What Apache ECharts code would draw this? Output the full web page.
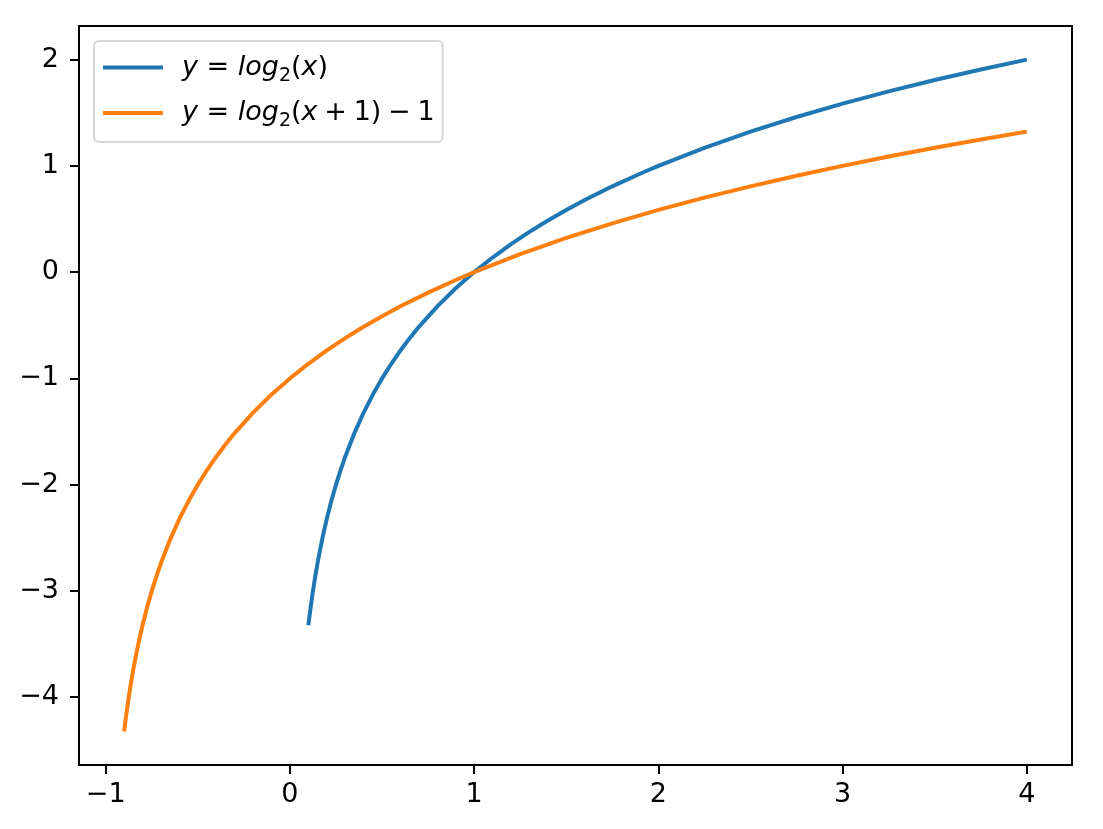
<!DOCTYPE html>
<html>
<head>
<meta charset="utf-8">
<script src="https://cdn.jsdelivr.net/npm/echarts@6/dist/echarts.min.js"></script>
<style>
html,body{margin:0;padding:0;background:#fff;}
#chart{width:1103px;height:829px;}
</style>
</head>
<body>
<div id="chart"></div>
<script>
// Data
const blueName = 'y = log2(x)';
const orangeName = 'y = log2(x + 1) − 1';
const blueX = [0.1,0.11,0.12,0.13,0.14,0.15,0.16,0.18,0.2,0.225,0.25,0.275,0.3,0.35,0.4,0.45,0.5,0.55,0.6,0.65,0.7,0.8,0.9,1,1.1,1.2,1.3,1.4,1.5,1.6,1.75,1.9,2,2.25,2.5,2.75,3,3.25,3.5,3.75,4];
const blueY = [-3.3219,-3.1844,-3.0589,-2.9434,-2.8365,-2.737,-2.6439,-2.4739,-2.3219,-2.152,-2,-1.8625,-1.737,-1.5146,-1.3219,-1.152,-1,-0.8625,-0.737,-0.6215,-0.5146,-0.3219,-0.152,0,0.1375,0.263,0.3785,0.4854,0.585,0.6781,0.8074,0.926,1,1.1699,1.3219,1.4594,1.585,1.7004,1.8074,1.9069,2];
const orangeX = [-0.9,-0.89,-0.88,-0.87,-0.86,-0.85,-0.84,-0.82,-0.8,-0.775,-0.75,-0.725,-0.7,-0.65,-0.6,-0.55,-0.5,-0.45,-0.4,-0.35,-0.3,-0.2,-0.1,0,0.1,0.2,0.3,0.4,0.5,0.6,0.75,0.9,1,1.25,1.5,1.75,2,2.25,2.5,2.75,3,3.25,3.5,3.75,4];
const orangeY = [-4.3219,-4.1844,-4.0589,-3.9434,-3.8365,-3.737,-3.6439,-3.4739,-3.3219,-3.152,-3,-2.8625,-2.737,-2.5146,-2.3219,-2.152,-2,-1.8625,-1.737,-1.6215,-1.5146,-1.3219,-1.152,-1,-0.8625,-0.737,-0.6215,-0.5146,-0.415,-0.3219,-0.1926,-0.074,0,0.1699,0.3219,0.4594,0.585,0.7004,0.8074,0.9069,1,1.0875,1.1699,1.2479,1.3219];
const xTicks = [-1,0,1,2,3,4];
const yTicks = [-4,-3,-2,-1,0,1,2];
const xRange = [-1.145, 4.245];
const yRange = [-4.638, 2.316];

const zip = (xs, ys) => xs.map((x, i) => [x, ys[i]]);
const font = 'DejaVu Sans';
const minusFmt = v => (v < 0 ? '−' + Math.abs(v) : String(v));

const chart = echarts.init(document.getElementById('chart'), null, {renderer: 'canvas'});
const legendText = {};
legendText[blueName] = '{i|y}{n| = }{i|log}{s|2}{n|(}{i|x}{n|)}';
legendText[orangeName] = '{i|y}{n| = }{i|log}{s|2}{n|(}{i|x}{n|\u2005+\u20051)\u2005−\u20051}';

chart.setOption({
  animation: false,
  backgroundColor: '#fff',
  grid: {left: 79, right: 31, top: 26, bottom: 64, show: true, borderColor: '#000', borderWidth: 2, backgroundColor: 'transparent'},
  xAxis: {
    type: 'value', min: xRange[0], max: xRange[1],
    splitLine: {show: false},
    axisLine: {show: true, onZero: false, lineStyle: {color: '#000', width: 2}},
    axisTick: {show: true, length: 9, customValues: xTicks, lineStyle: {color: '#000', width: 2}},
    axisLabel: {customValues: xTicks, color: '#000', fontFamily: font, fontSize: 27, margin: 16, formatter: minusFmt}
  },
  yAxis: {
    type: 'value', min: yRange[0], max: yRange[1],
    splitLine: {show: false},
    axisLine: {show: true, onZero: false, lineStyle: {color: '#000', width: 2}},
    axisTick: {show: true, length: 9, customValues: yTicks, lineStyle: {color: '#000', width: 2}},
    axisLabel: {customValues: yTicks, color: '#000', fontFamily: font, fontSize: 27, margin: 20, formatter: minusFmt}
  },
  legend: {
    orient: 'vertical', left: 94, top: 41,
    padding: [13, 8, 11, 9],
    itemGap: 14, itemWidth: 60, itemHeight: 4,
    icon: 'rect',
    backgroundColor: 'rgba(255,255,255,0.8)',
    borderColor: '#d6d6d6', borderWidth: 2, borderRadius: 5,
    data: [blueName, orangeName],
    formatter: name => legendText[name],
    textStyle: {
      padding: [0, 0, 0, 14],
      rich: {
        i: {fontFamily: font, fontStyle: 'italic', fontSize: 27, lineHeight: 36, color: '#000'},
        n: {fontFamily: font, fontSize: 27, lineHeight: 36, color: '#000'},
        s: {fontFamily: font, fontSize: 19, lineHeight: 23, verticalAlign: 'bottom', color: '#000'}
      }
    }
  },
  series: [
    {name: blueName, type: 'line', data: zip(blueX, blueY), symbol: 'none', showSymbol: false,
      lineStyle: {color: '#1f77b4', width: 4, join: 'round', cap: 'butt'}, itemStyle: {color: '#1f77b4'}},
    {name: orangeName, type: 'line', data: zip(orangeX, orangeY), symbol: 'none', showSymbol: false,
      lineStyle: {color: '#ff7f0e', width: 4, join: 'round', cap: 'butt'}, itemStyle: {color: '#ff7f0e'}}
  ]
});
</script>
</body>
</html>
